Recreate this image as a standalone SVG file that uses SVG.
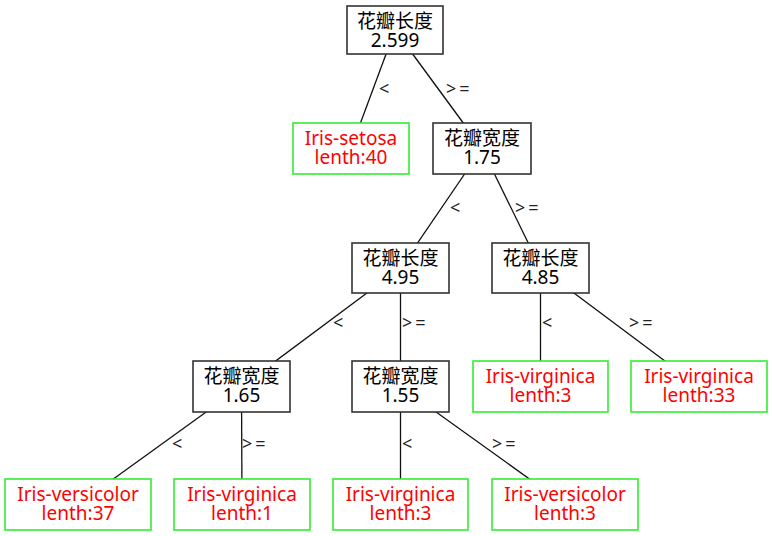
<svg xmlns="http://www.w3.org/2000/svg" width="772" height="536" viewBox="0 0 772 536">
<style>
text{font-family:"Noto Sans","Noto Sans CJK SC",sans-serif;}
.n rect{fill:#fff;stroke:#333;stroke-width:1.6;}
.l rect{fill:#fff;stroke:#33ee33;stroke-width:1.6;}
.n text{font-size:19px;fill:#000;text-anchor:middle;}
.l text{font-size:19px;fill:#ff0000;text-anchor:middle;}
.e line{stroke:#111;stroke-width:1.3;}
.e text{font-size:18px;fill:#222;}
.ge{letter-spacing:3px;}
</style>
<rect width="772" height="536" fill="#fff"/>
<g id="connectors" class="e">
<line x1="395" y1="30" x2="351" y2="148.5"/>
<line x1="395" y1="30" x2="482" y2="148.5"/>
<line x1="482" y1="148.5" x2="400.5" y2="268"/>
<line x1="482" y1="148.5" x2="540.5" y2="268"/>
<line x1="400.5" y1="268" x2="241.5" y2="386.5"/>
<line x1="400.5" y1="268" x2="400.5" y2="386.5"/>
<line x1="540.5" y1="268" x2="540.5" y2="386.5"/>
<line x1="540.5" y1="268" x2="699" y2="386.5"/>
<line x1="241.5" y1="386.5" x2="78" y2="504.5"/>
<line x1="241.5" y1="386.5" x2="242" y2="504.5"/>
<line x1="400.5" y1="386.5" x2="400.5" y2="504.5"/>
<line x1="400.5" y1="386.5" x2="565" y2="504.5"/>
<text x="379" y="95">&lt;</text>
<text x="446" y="95" class="ge">&gt;=</text>
<text x="450" y="214">&lt;</text>
<text x="515" y="214" class="ge">&gt;=</text>
<text x="333" y="329">&lt;</text>
<text x="402" y="329" class="ge">&gt;=</text>
<text x="542" y="329">&lt;</text>
<text x="629" y="329" class="ge">&gt;=</text>
<text x="172" y="450">&lt;</text>
<text x="242" y="450" class="ge">&gt;=</text>
<text x="402" y="450">&lt;</text>
<text x="492" y="450" class="ge">&gt;=</text>
</g>
<g id="root" class="n"><rect x="347" y="6" width="96" height="48"/><text x="395" y="28">花瓣长度<tspan x="395" dy="19">2.599</tspan></text></g>
<g id="setosa" class="l"><rect x="293" y="123" width="116" height="51"/><text x="351" y="145">Iris-setosa<tspan x="351" dy="19">lenth:40</tspan></text></g>
<g id="pw175" class="n"><rect x="433" y="123" width="98" height="51"/><text x="482" y="145">花瓣宽度<tspan x="482" dy="19">1.75</tspan></text></g>
<g id="pl495" class="n"><rect x="352" y="243" width="97" height="50"/><text x="400.5" y="265">花瓣长度<tspan x="400.5" dy="19">4.95</tspan></text></g>
<g id="pl485" class="n"><rect x="492" y="243" width="97" height="50"/><text x="540.5" y="265">花瓣长度<tspan x="540.5" dy="19">4.85</tspan></text></g>
<g id="pw165" class="n"><rect x="193" y="361" width="97" height="51"/><text x="241.5" y="383">花瓣宽度<tspan x="241.5" dy="19">1.65</tspan></text></g>
<g id="pw155" class="n"><rect x="352" y="361" width="97" height="51"/><text x="400.5" y="383">花瓣宽度<tspan x="400.5" dy="19">1.55</tspan></text></g>
<g id="virg3a" class="l"><rect x="473" y="361" width="135" height="51"/><text x="540.5" y="383">Iris-virginica<tspan x="540.5" dy="19">lenth:3</tspan></text></g>
<g id="virg33" class="l"><rect x="631" y="361" width="136" height="51"/><text x="699" y="383">Iris-virginica<tspan x="699" dy="19">lenth:33</tspan></text></g>
<g id="vers37" class="l"><rect x="5" y="479" width="146" height="51"/><text x="78" y="501">Iris-versicolor<tspan x="78" dy="19">lenth:37</tspan></text></g>
<g id="virg1" class="l"><rect x="174" y="479" width="136" height="51"/><text x="242" y="501">Iris-virginica<tspan x="242" dy="19">lenth:1</tspan></text></g>
<g id="virg3b" class="l"><rect x="333" y="479" width="135" height="51"/><text x="400.5" y="501">Iris-virginica<tspan x="400.5" dy="19">lenth:3</tspan></text></g>
<g id="vers3" class="l"><rect x="492" y="479" width="146" height="51"/><text x="565" y="501">Iris-versicolor<tspan x="565" dy="19">lenth:3</tspan></text></g>
</svg>
